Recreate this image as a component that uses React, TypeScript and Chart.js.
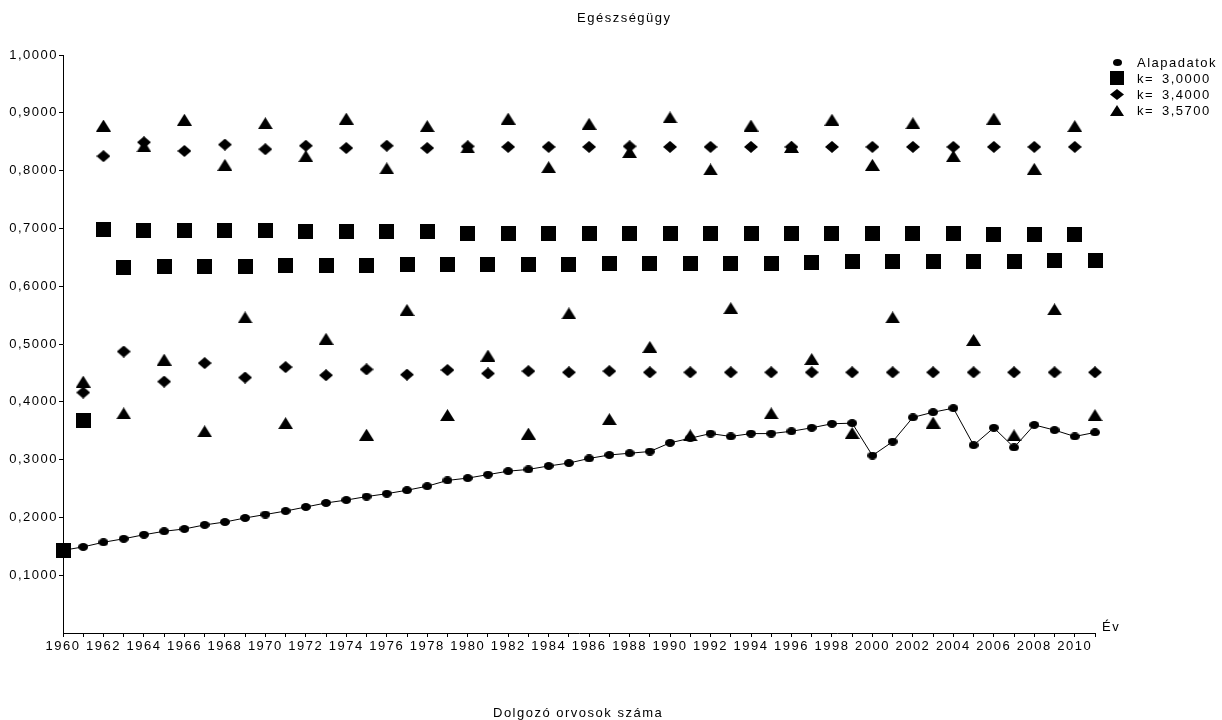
import React, { useEffect, useRef } from 'react';
import { Chart, registerables } from 'chart.js';

Chart.register(...registerables);

// Years on the horizontal axis
const years = [
  1960, 1961, 1962, 1963, 1964, 1965, 1966, 1967, 1968, 1969,
  1970, 1971, 1972, 1973, 1974, 1975, 1976, 1977, 1978, 1979,
  1980, 1981, 1982, 1983, 1984, 1985, 1986, 1987, 1988, 1989,
  1990, 1991, 1992, 1993, 1994, 1995, 1996, 1997, 1998, 1999,
  2000, 2001, 2002, 2003, 2004, 2005, 2006, 2007, 2008, 2009,
  2010, 2011,
];

// Base data (connected by a line)
const alapadatok = [
  0.143, 0.149, 0.157, 0.163, 0.170, 0.176, 0.180, 0.187, 0.192, 0.199,
  0.205, 0.211, 0.218, 0.225, 0.230, 0.236, 0.241, 0.247, 0.254, 0.264,
  0.268, 0.274, 0.280, 0.283, 0.289, 0.294, 0.302, 0.308, 0.311, 0.314,
  0.329, 0.337, 0.345, 0.340, 0.345, 0.345, 0.349, 0.355, 0.362, 0.363,
  0.307, 0.331, 0.373, 0.382, 0.389, 0.325, 0.355, 0.321, 0.360, 0.351,
  0.340, 0.347,
];

// k = 3,0000
const k300 = [
  0.143, 0.367, 0.698, 0.633, 0.696, 0.634, 0.696, 0.634, 0.696, 0.634,
  0.696, 0.636, 0.694, 0.636, 0.694, 0.636, 0.694, 0.638, 0.694, 0.638,
  0.692, 0.638, 0.692, 0.638, 0.692, 0.638, 0.692, 0.639, 0.692, 0.639,
  0.692, 0.639, 0.691, 0.639, 0.691, 0.639, 0.691, 0.641, 0.691, 0.642,
  0.691, 0.642, 0.691, 0.642, 0.691, 0.642, 0.689, 0.642, 0.689, 0.644,
  0.689, 0.644,
];

// k = 3,4000
const k340 = [
  0.143, 0.416, 0.825, 0.487, 0.849, 0.435, 0.834, 0.467, 0.845, 0.442,
  0.837, 0.460, 0.843, 0.446, 0.839, 0.456, 0.843, 0.447, 0.839, 0.455,
  0.842, 0.449, 0.841, 0.453, 0.841, 0.451, 0.841, 0.453, 0.842, 0.451,
  0.841, 0.451, 0.841, 0.451, 0.841, 0.451, 0.841, 0.451, 0.841, 0.451,
  0.841, 0.451, 0.841, 0.451, 0.841, 0.451, 0.841, 0.451, 0.841, 0.451,
  0.841, 0.451,
];

// k = 3,5700
const k357 = [
  0.143, 0.435, 0.878, 0.380, 0.842, 0.473, 0.888, 0.349, 0.810, 0.546,
  0.882, 0.363, 0.825, 0.509, 0.890, 0.343, 0.804, 0.559, 0.877, 0.377,
  0.840, 0.480, 0.890, 0.345, 0.806, 0.553, 0.881, 0.370, 0.832, 0.495,
  0.892, 0.342, 0.802, 0.562, 0.878, 0.380, 0.841, 0.474, 0.888, 0.346,
  0.810, 0.546, 0.882, 0.364, 0.825, 0.507, 0.890, 0.342, 0.803, 0.560,
  0.877, 0.377,
];

const chartTitle = 'Egészségügy';
const xAxisTitle = 'Dolgozó orvosok száma';
const xAxisUnit = 'Év';
const seriesLabels = ['Alapadatok', 'k=', 'k=', 'k='];
const seriesKValues = ['', '3,0000', '3,4000', '3,5700'];

const FONT_FAMILY = '"Liberation Sans", Arial, sans-serif';
const FONT = `13px ${FONT_FAMILY}`;
const LETTER_SPACING = '1.5px';

type MarkerKind = 'dot' | 'square' | 'diamond' | 'triangle';

function makeMarker(kind: MarkerKind, w: number, h: number): HTMLCanvasElement {
  const c = document.createElement('canvas');
  c.width = w;
  c.height = h;
  const g = c.getContext('2d')!;
  g.fillStyle = '#000';
  g.beginPath();
  if (kind === 'dot') {
    g.ellipse(w / 2, h / 2, w / 2, h / 2, 0, 0, Math.PI * 2);
  } else if (kind === 'square') {
    g.rect(0, 0, w, h);
  } else if (kind === 'diamond') {
    g.moveTo(0, h / 2);
    g.lineTo(w / 2, 0);
    g.lineTo(w, h / 2);
    g.lineTo(w / 2, h);
    g.closePath();
  } else {
    g.moveTo(w / 2, 0);
    g.lineTo(w, h);
    g.lineTo(0, h);
    g.closePath();
  }
  g.fill();
  return c;
}

export default function App() {
  const canvasRef = useRef<HTMLCanvasElement | null>(null);

  useEffect(() => {
    const canvas = canvasRef.current;
    if (!canvas) return;

    const dotImg = makeMarker('dot', 10, 8);
    const squareImg = makeMarker('square', 15, 15);
    const diamondImg = makeMarker('diamond', 14, 12);
    const triangleImg = makeMarker('triangle', 15, 12);

    const legendMarkers = [
      makeMarker('dot', 9, 7),
      makeMarker('square', 14, 14),
      makeMarker('diamond', 14, 11),
      makeMarker('triangle', 14, 11),
    ];

    const toPoints = (vals: number[]) => years.map((x, i) => ({ x, y: vals[i] }));

    const textPlugin = {
      id: 'chartTexts',
      beforeLayout(chart: any) {
        chart.ctx.letterSpacing = LETTER_SPACING;
      },
      beforeDraw(chart: any) {
        const ctx = chart.ctx;
        ctx.letterSpacing = LETTER_SPACING;
        ctx.save();
        ctx.fillStyle = '#fff';
        ctx.fillRect(0, 0, chart.width, chart.height);
        ctx.restore();
      },
      afterDraw(chart: any) {
        const ctx = chart.ctx;
        const area = chart.chartArea;
        ctx.save();
        ctx.letterSpacing = LETTER_SPACING;
        ctx.font = FONT;
        ctx.fillStyle = '#000';
        ctx.textAlign = 'left';
        ctx.textBaseline = 'alphabetic';

        ctx.fillText(chartTitle, 577, 22);
        ctx.fillText(xAxisTitle, 493, 717);
        ctx.fillText(xAxisUnit, area.right + 7, area.bottom - 2);

        // legend
        const markerX = area.right + 22;
        const textX = area.right + 42;
        const valueX = area.right + 67;
        for (let i = 0; i < seriesLabels.length; i++) {
          const cy = area.top + 7 + i * 16;
          const m = legendMarkers[i];
          ctx.drawImage(m, Math.round(markerX - m.width / 2), Math.round(cy - m.height / 2));
          ctx.fillText(seriesLabels[i], textX, cy + 5);
          if (seriesKValues[i]) ctx.fillText(seriesKValues[i], valueX, cy + 5);
        }
        ctx.restore();
      },
    };

    const chart = new Chart(canvas, {
      type: 'scatter',
      data: {
        datasets: [
          {
            label: 'Alapadatok',
            data: toPoints(alapadatok),
            showLine: true,
            borderColor: '#000',
            borderWidth: 1,
            pointStyle: dotImg as any,
            pointRadius: 5,
            clip: false as any,
            order: 4,
          },
          {
            label: 'k=   3,0000',
            data: toPoints(k300),
            showLine: false,
            pointStyle: squareImg as any,
            pointRadius: 8,
            clip: false as any,
            order: 3,
          },
          {
            label: 'k=   3,4000',
            data: toPoints(k340),
            showLine: false,
            pointStyle: diamondImg as any,
            pointRadius: 7,
            clip: false as any,
            order: 2,
          },
          {
            label: 'k=   3,5700',
            data: toPoints(k357),
            showLine: false,
            pointStyle: triangleImg as any,
            pointRadius: 7,
            clip: false as any,
            order: 1,
          },
        ],
      },
      options: {
        responsive: false,
        animation: false,
        events: [],
        layout: { padding: { top: 55, right: 127, left: 0, bottom: 0 } },
        plugins: {
          legend: { display: false },
          tooltip: { enabled: false },
          title: { display: false },
        },
        scales: {
          x: {
            type: 'linear',
            min: 1960,
            max: 2011,
            afterFit: (s: any) => {
              s.height = 87;
            },
            border: { display: true, color: '#000', width: 1 },
            grid: { drawOnChartArea: false, drawTicks: true, tickLength: 4, color: '#000' },
            ticks: {
              stepSize: 1,
              maxTicksLimit: 100,
              autoSkip: false,
              maxRotation: 0,
              minRotation: 0,
              padding: 2,
              color: '#000',
              font: { family: FONT_FAMILY, size: 13 },
              callback: (v: any) => (Number(v) % 2 === 0 ? String(v) : ''),
            },
          },
          y: {
            type: 'linear',
            min: 0,
            max: 1,
            afterFit: (s: any) => {
              s.width = 63;
            },
            border: { display: true, color: '#000', width: 1 },
            grid: {
              drawOnChartArea: false,
              drawTicks: true,
              tickLength: 4,
              color: (c: any) => (c.tick && c.tick.value === 0 ? 'rgba(0,0,0,0)' : '#000'),
            },
            ticks: {
              stepSize: 0.1,
              padding: 1,
              color: '#000',
              font: { family: FONT_FAMILY, size: 13 },
              callback: (v: any) => (Number(v) === 0 ? '' : Number(v).toFixed(4).replace('.', ',')),
            },
          },
        },
      },
      plugins: [textPlugin],
    });

    return () => {
      chart.destroy();
    };
  }, []);

  return (
    <div style={{ position: 'absolute', left: 0, top: 0, width: 1222, height: 720, background: '#fff' }}>
      <canvas ref={canvasRef} width={1222} height={720} style={{ display: 'block' }} />
    </div>
  );
}
